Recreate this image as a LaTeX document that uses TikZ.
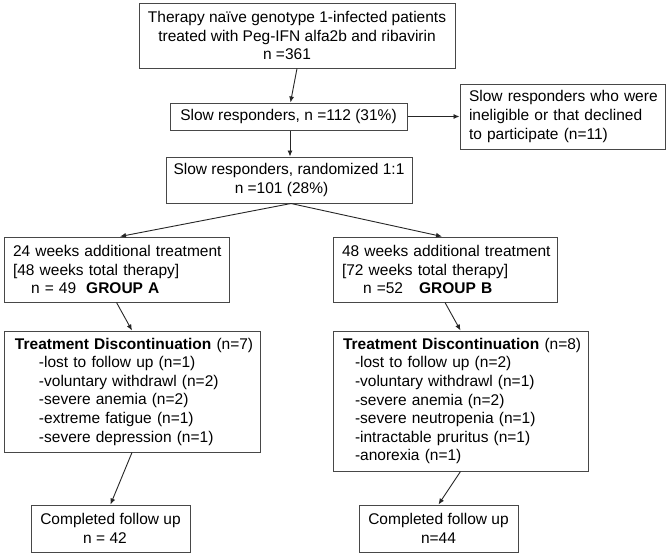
\documentclass[tikz,border=0pt]{standalone}
\usepackage{fontspec}
\setmainfont{Liberation Sans}
\usetikzlibrary{arrows.meta}
\begin{document}
\begin{tikzpicture}[x=1pt,y=-1pt,
  box/.style={draw=black!72, line width=1pt, inner ysep=0pt, inner xsep=0pt,
    font=\fontsize{15.5}{18.6}\selectfont},
  cbox/.style={box, align=center},
  lbox/.style={box, align=left},
  arr/.style={draw=black!85, line width=0.9pt, -{Latex[length=6pt,width=5pt]}}]
\fill[white] (0,0) rectangle (667,555);
\useasboundingbox (0,0) rectangle (667,555);

\node[cbox, minimum width=316pt, minimum height=65pt] (b1) at (297,35.5)
  {Therapy naïve genotype 1-infected patients\\treated with Peg-IFN alfa2b and ribavirin\hspace*{12pt}\\n =361\hspace*{20pt}};
\node[cbox, minimum width=237pt, minimum height=27pt] (sr) at (288.5,116.5)
  {Slow responders, n =112 (31\%)};
\node[lbox, inner xsep=9pt, text width=187pt, minimum height=65pt] (ex) at (562.5,116.5)
  {\mbox{Slow responders who were}\\\mbox{ineligible or that declined}\\\mbox{to participate (n=11)}};
\node[cbox, minimum width=246pt, minimum height=46pt] (rd) at (289,180)
  {Slow responders, randomized 1:1\\n =101 (28\%)\hspace*{15pt}};

\node[lbox, inner xsep=9pt, text width=207pt, minimum height=65pt] (ga) at (116.5,269.5)
  {\mbox{24 weeks additional treatment}\\\mbox{[48 weeks total therapy]}\\\mbox{\hspace*{18pt}n = 49\hspace{10pt}\textbf{GROUP A}}};
\node[lbox, inner xsep=9pt, text width=206pt, minimum height=65pt] (gb) at (445,269.5)
  {\mbox{48 weeks additional treatment}\\\mbox{[72 weeks total therapy]}\\\mbox{\hspace*{21pt}n =52\hspace{16pt}\textbf{GROUP B}}};

\node[lbox, inner xsep=11pt, text width=234pt, minimum height=121pt] (da) at (132,391.5)
  {\mbox{\textbf{Treatment Discontinuation} (n=7)}\\
   \mbox{\hspace*{24pt}-lost to follow up (n=1)}\\
   \mbox{\hspace*{24pt}-voluntary withdrawl (n=2)}\\
   \mbox{\hspace*{24pt}-severe anemia (n=2)}\\
   \mbox{\hspace*{24pt}-extreme fatigue (n=1)}\\
   \mbox{\hspace*{24pt}-severe depression (n=1)}};
\node[lbox, inner xsep=10pt, text width=235pt, minimum height=140pt] (db) at (460.5,401)
  {\mbox{\textbf{Treatment Discontinuation} (n=8)}\\
   \mbox{\hspace*{12pt}-lost to follow up (n=2)}\\
   \mbox{\hspace*{12pt}-voluntary withdrawl (n=1)}\\
   \mbox{\hspace*{12pt}-severe anemia (n=2)}\\
   \mbox{\hspace*{12pt}-severe neutropenia (n=1)}\\
   \mbox{\hspace*{12pt}-intractable pruritus (n=1)}\\
   \mbox{\hspace*{12pt}-anorexia (n=1)}};

\node[cbox, minimum width=159pt, minimum height=47pt] (ca) at (110.5,528.5)
  {Completed follow up\\n = 42\hspace*{11pt}};
\node[cbox, minimum width=159pt, minimum height=47pt] (cb) at (438.5,528.5)
  {Completed follow up\\n=44};

\draw[arr] (b1.south) -- ([xshift=2pt]sr.north);
\draw[arr] (sr.east) -- (ex.west);
\draw[arr] ([xshift=1.5pt]sr.south) -- ([xshift=1pt]rd.north);
\draw[arr] ([xshift=2pt]rd.south) -- ([xshift=3.5pt]ga.north);
\draw[arr] ([xshift=2pt]rd.south) -- ([xshift=-3pt]gb.north);
\draw[arr] (ga.south) -- (da.north);
\draw[arr] (gb.south) -- (db.north);
\draw[arr] (da.south) -- (ca.north);
\draw[arr] (db.south) -- (cb.north);
\end{tikzpicture}
\end{document}
